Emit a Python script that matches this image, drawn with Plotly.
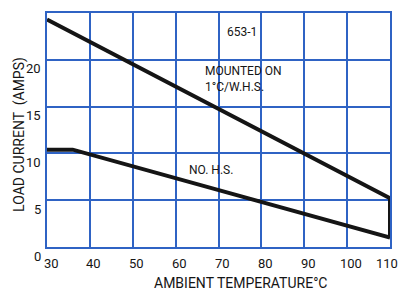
import plotly.graph_objects as go

# Data
mounted_x = [30, 110, 110]
mounted_y = [24.3, 5.2, 1.0]
nohs_x = [30, 36, 110]
nohs_y = [10.4, 10.4, 1.0]

x_ticks = [30, 40, 50, 60, 70, 80, 90, 100, 110]
y_ticks = [0, 5, 10, 15, 20]
y_grid = [0, 5, 10, 15, 20, 25]

labels = [
    {"text": "653-1", "x": 75.5, "y": 23.0, "align": "center", "xanchor": "center"},
    {"text": "MOUNTED ON<br>1°C/W.H.S.", "x": 66.3, "y": 18.0, "align": "left", "xanchor": "left"},
    {"text": "NO. H.S.", "x": 68.3, "y": 8.2, "align": "center", "xanchor": "center"},
]

FONT = "Liberation Sans Narrow, Arial Narrow, Roboto, Liberation Sans, Arial"
INK = "#151515"
GRID = "#2f63c4"

fig = go.Figure()
fig.add_trace(go.Scatter(x=mounted_x, y=mounted_y, mode="lines",
                         line=dict(color=INK, width=4), showlegend=False))
fig.add_trace(go.Scatter(x=nohs_x, y=nohs_y, mode="lines",
                         line=dict(color=INK, width=4), showlegend=False))

annotations = []
for lab in labels:
    annotations.append(dict(text=lab["text"], x=lab["x"], y=lab["y"], xref="x", yref="y",
                            xanchor=lab["xanchor"], align=lab["align"],
                            showarrow=False, font=dict(family=FONT, size=12, color=INK)))
for v in y_ticks:
    annotations.append(dict(text=str(v), x=0, y=v, xref="paper", yref="y",
                            xanchor="right", yanchor="middle", xshift=-4, yshift=-9,
                            showarrow=False, font=dict(family=FONT, size=13, color=INK)))
for v in x_ticks:
    last = v == x_ticks[-1]
    annotations.append(dict(text=str(v), x=v, y=0, xref="x", yref="paper",
                            xanchor="right" if last else "center", yanchor="middle",
                            xshift=10 if last else 4, yshift=-16,
                            showarrow=False, font=dict(family=FONT, size=13, color=INK)))
annotations.append(dict(text="AMBIENT TEMPERATURE°C", x=0.563, y=-0.154, xref="paper", yref="paper",
                        xanchor="center", yanchor="middle", showarrow=False,
                        font=dict(family=FONT, size=14, color=INK)))
annotations.append(dict(text="LOAD CURRENT  (AMPS)", x=-0.079, y=0.483, xref="paper", yref="paper",
                        xanchor="center", yanchor="middle", textangle=-90, showarrow=False,
                        font=dict(family=FONT, size=14, color=INK)))

fig.update_layout(
    width=401, height=295,
    margin=dict(l=47, r=11, t=13, b=48, autoexpand=False),
    paper_bgcolor="white", plot_bgcolor="white",
    annotations=annotations,
    xaxis=dict(range=[30, 110], tickvals=x_ticks, showticklabels=False, automargin=False,
               showgrid=True, gridcolor=GRID, gridwidth=1.5, zeroline=False,
               showline=True, linecolor=GRID, linewidth=2, mirror=True, ticks=""),
    yaxis=dict(range=[0, 25], tickvals=y_grid, showticklabels=False, automargin=False,
               showgrid=True, gridcolor=GRID, gridwidth=1.5, zeroline=False,
               showline=True, linecolor=GRID, linewidth=2, mirror=True, ticks=""),
)

fig.write_html("out.html", config={"displayModeBar": False},
               post_script="document.body.style.margin='0';")
